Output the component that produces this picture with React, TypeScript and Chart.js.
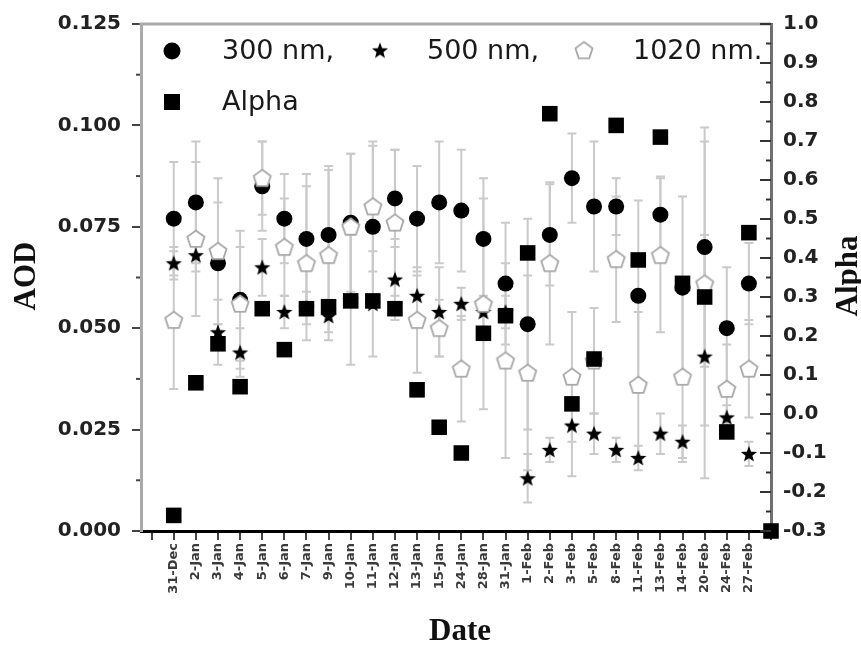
import React, { useEffect, useRef } from 'react';
import { Chart, registerables } from 'chart.js';

Chart.register(...registerables);

// ---------- data ----------
const categories = [
  '31-Dec', '2-Jan', '3-Jan', '4-Jan', '5-Jan', '6-Jan', '7-Jan', '9-Jan', '10-Jan', '11-Jan',
  '12-Jan', '13-Jan', '15-Jan', '24-Jan', '28-Jan', '31-Jan', '1-Feb', '2-Feb', '3-Feb', '5-Feb',
  '8-Feb', '11-Feb', '13-Feb', '14-Feb', '20-Feb', '24-Feb', '27-Feb', '',
];

const aod300 = [0.077, 0.081, 0.066, 0.057, 0.085, 0.077, 0.072, 0.073, 0.076, 0.075, 0.082, 0.077, 0.081, 0.079, 0.072, 0.061, 0.051, 0.073, 0.087, 0.080, 0.080, 0.058, 0.078, 0.060, 0.070, 0.050, 0.061];
const err300 = [0.014, 0.015, 0.015, 0.017, 0.011, 0.011, 0.016, 0.017, 0.017, 0.020, 0.012, 0.013, 0.015, 0.015, 0.015, 0.015, 0.026, 0.0125, 0.011, 0.016, 0.007, 0.0235, 0.0094, 0.0225, 0.0295, 0.015, 0.010];

const aod500 = [0.066, 0.068, 0.049, 0.044, 0.065, 0.054, 0.055, 0.053, 0.057, 0.056, 0.062, 0.058, 0.054, 0.056, 0.054, 0.054, 0.013, 0.020, 0.026, 0.024, 0.020, 0.018, 0.024, 0.022, 0.043, 0.028, 0.019];
const err500 = [0.004, 0.004, 0.008, 0.006, 0.007, 0.004, 0.004, 0.004, 0.016, 0.013, 0.010, 0.005, 0.011, 0.004, 0.004, 0.004, 0.006, 0.003, 0.0125, 0.005, 0.003, 0.003, 0.005, 0.004, 0.030, 0.003, 0.003];

const aod1020 = [0.052, 0.072, 0.069, 0.056, 0.087, 0.070, 0.066, 0.068, 0.075, 0.080, 0.076, 0.052, 0.050, 0.040, 0.056, 0.042, 0.039, 0.066, 0.038, 0.042, 0.067, 0.036, 0.068, 0.038, 0.061, 0.035, 0.040];
const err1020 = [0.017, 0.019, 0.018, 0.014, 0.009, 0.012, 0.019, 0.021, 0.018, 0.016, 0.018, 0.013, 0.007, 0.013, 0.026, 0.024, 0.024, 0.020, 0.016, 0.013, 0.0155, 0.018, 0.019, 0.021, 0.035, 0.011, 0.012];

const alpha = [-0.26, 0.08, 0.18, 0.07, 0.27, 0.165, 0.27, 0.275, 0.29, 0.29, 0.27, 0.062, -0.034, -0.10, 0.207, 0.252, 0.413, 0.77, 0.026, 0.141, 0.74, 0.395, 0.71, 0.335, 0.30, -0.046, 0.465, -0.3];

const aodTicks = [0, 0.025, 0.05, 0.075, 0.1, 0.125];
const alphaRange = [-0.3, 1.0];

const legendLabels = ['300 nm,', '500 nm,', '1020 nm.', 'Alpha'];
const axisTitles = { left: 'AOD', right: 'Alpha', bottom: 'Date' };

// ---------- marker images ----------
function makeStar(): HTMLCanvasElement {
  const c = document.createElement('canvas');
  c.width = 18; c.height = 18;
  const ctx = c.getContext('2d')!;
  const R = 8.5, r = 3.6, cx = 9, cy = 9.6;
  ctx.beginPath();
  for (let i = 0; i < 10; i++) {
    const rad = i % 2 === 0 ? R : r;
    const a = -Math.PI / 2 + (i * Math.PI) / 5;
    const px = cx + rad * Math.cos(a), py = cy + rad * Math.sin(a);
    if (i === 0) ctx.moveTo(px, py); else ctx.lineTo(px, py);
  }
  ctx.closePath();
  ctx.fillStyle = '#000';
  ctx.fill();
  return c;
}

function makePentagon(): HTMLCanvasElement {
  const c = document.createElement('canvas');
  c.width = 22; c.height = 22;
  const ctx = c.getContext('2d')!;
  const R = 9, cx = 11, cy = 11.6;
  ctx.beginPath();
  for (let i = 0; i < 5; i++) {
    const a = -Math.PI / 2 + (i * 2 * Math.PI) / 5;
    const px = cx + R * Math.cos(a), py = cy + R * Math.sin(a);
    if (i === 0) ctx.moveTo(px, py); else ctx.lineTo(px, py);
  }
  ctx.closePath();
  ctx.fillStyle = '#fff';
  ctx.fill();
  ctx.strokeStyle = '#a8a8a8';
  ctx.lineWidth = 1.8;
  ctx.stroke();
  return c;
}

const TICK_FONT = { family: 'DejaVu Sans', size: 20, weight: 'bold' as const };

export default function App() {
  const ref = useRef<HTMLCanvasElement | null>(null);

  useEffect(() => {
    if (!ref.current) return;
    const star = makeStar();
    const pent = makePentagon();

    const pts = (arr: number[]) => arr.map((v, i) => ({ x: i, y: v }));

    const errorBars = {
      id: 'errorBars',
      beforeDatasetsDraw(chart: any) {
        const { ctx, chartArea } = chart;
        const xs = chart.scales.x, ys = chart.scales.y;
        const sets = [
          [aod300, err300],
          [aod500, err500],
          [aod1020, err1020],
        ];
        ctx.save();
        ctx.beginPath();
        ctx.rect(chartArea.left, chartArea.top, chartArea.right - chartArea.left, chartArea.bottom - chartArea.top);
        ctx.clip();
        ctx.strokeStyle = '#cacaca';
        ctx.lineWidth = 2;
        sets.forEach(([vals, errs]) => {
          vals.forEach((v, i) => {
            const e = errs[i];
            const px = xs.getPixelForValue(i);
            const y1 = ys.getPixelForValue(v + e);
            const y2 = ys.getPixelForValue(v - e);
            ctx.beginPath();
            ctx.moveTo(px, y1); ctx.lineTo(px, y2);
            ctx.moveTo(px - 4.5, y1); ctx.lineTo(px + 4.5, y1);
            ctx.moveTo(px - 4.5, y2); ctx.lineTo(px + 4.5, y2);
            ctx.stroke();
          });
        });
        ctx.restore();
      },
    };

    const decor = {
      id: 'decor',
      afterDraw(chart: any) {
        const { ctx, chartArea } = chart;
        const ys = chart.scales.y, y1s = chart.scales.y1;
        ctx.save();
        // top frame
        ctx.strokeStyle = '#aaaaaa';
        ctx.lineWidth = 3;
        ctx.beginPath();
        ctx.moveTo(chartArea.left - 1.5, chartArea.top);
        ctx.lineTo(chartArea.right, chartArea.top);
        ctx.stroke();
        // left minor ticks
        ctx.strokeStyle = '#444';
        ctx.lineWidth = 2;
        for (let k = 0; k < aodTicks.length - 1; k++) {
          const m = (aodTicks[k] + aodTicks[k + 1]) / 2;
          const py = ys.getPixelForValue(m);
          ctx.beginPath();
          ctx.moveTo(chartArea.left - 5, py); ctx.lineTo(chartArea.left - 1, py);
          ctx.stroke();
        }
        // right inward ticks
        ctx.strokeStyle = '#333';
        for (let k = 0; k <= 26; k++) {
          const v = alphaRange[0] + k * 0.05;
          const py = y1s.getPixelForValue(v);
          const len = k % 2 === 0 ? 11 : 5;
          ctx.beginPath();
          ctx.moveTo(chartArea.right - len, py); ctx.lineTo(chartArea.right, py);
          ctx.stroke();
        }
        // axis titles
        ctx.fillStyle = '#111';
        ctx.font = 'bold 31px "Liberation Serif"';
        ctx.textAlign = 'center';
        ctx.textBaseline = 'middle';
        ctx.fillText(axisTitles.bottom, 460, 632);
        ctx.save();
        ctx.translate(27, 276);
        ctx.rotate(-Math.PI / 2);
        ctx.fillText(axisTitles.left, 0, 0);
        ctx.restore();
        ctx.save();
        ctx.translate(849, 276);
        ctx.rotate(-Math.PI / 2);
        ctx.fillText(axisTitles.right, 0, 0);
        ctx.restore();

        // legend
        const L = chartArea.left;
        const T = chartArea.top;
        const row1 = T + 27, row2 = T + 78;
        ctx.fillStyle = '#000';
        ctx.beginPath();
        ctx.arc(L + 31, row1, 8.5, 0, Math.PI * 2);
        ctx.fill();
        ctx.drawImage(star, L + 239 - 9, row1 - 9.6);
        ctx.drawImage(pent, L + 443 - 11, row1 - 11.6);
        ctx.fillRect(L + 31 - 8, row2 - 8, 16, 16);
        ctx.font = '27px "DejaVu Sans"';
        ctx.fillStyle = '#1a1a1a';
        ctx.textAlign = 'left';
        ctx.fillText(legendLabels[0], L + 81, row1 + 1);
        ctx.fillText(legendLabels[1], L + 286, row1 + 1);
        ctx.fillText(legendLabels[2], L + 492, row1 + 1);
        ctx.fillText(legendLabels[3], L + 81, row2 + 1);
        ctx.restore();
      },
    };

    const chart = new Chart(ref.current, {
      type: 'scatter',
      data: {
        datasets: [
          {
            label: legendLabels[3],
            data: pts(alpha),
            yAxisID: 'y1',
            pointStyle: 'rect',
            pointRadius: 11,
            pointHoverRadius: 11,
            backgroundColor: '#000',
            borderColor: '#000',
            borderWidth: 0,
            clip: false as any,
            order: 0,
          },
          {
            label: legendLabels[2],
            data: pts(aod1020),
            yAxisID: 'y',
            pointStyle: pent as any,
            pointRadius: 9,
            order: 1,
          },
          {
            label: legendLabels[1],
            data: pts(aod500),
            yAxisID: 'y',
            pointStyle: star as any,
            pointRadius: 8,
            order: 2,
          },
          {
            label: legendLabels[0],
            data: pts(aod300),
            yAxisID: 'y',
            pointStyle: 'circle',
            pointRadius: 8,
            pointHoverRadius: 8,
            backgroundColor: '#000',
            borderColor: '#000',
            borderWidth: 0,
            order: 3,
          },
        ],
      },
      options: {
        responsive: false,
        animation: false,
        events: [],
        layout: { padding: { top: 22, left: 0, right: 0, bottom: 0 } },
        plugins: { legend: { display: false }, tooltip: { enabled: false }, title: { display: false } },
        scales: {
          x: {
            type: 'linear',
            position: 'bottom',
            min: -1.48,
            max: 27,
            afterBuildTicks: (s: any) => {
              const t = [];
              for (let v = -1; v <= 27; v++) t.push({ value: v });
              s.ticks = t;
            },
            afterFit: (s: any) => { s.height = 115; },
            grid: { display: true, drawOnChartArea: false, drawTicks: true, tickLength: 9, color: '#444', lineWidth: 2 },
            border: { display: true, color: '#000', width: 3 },
            ticks: {
              autoSkip: false,
              maxRotation: 90,
              minRotation: 90,
              padding: 3,
              color: '#3a3a3a',
              font: { family: 'DejaVu Sans', size: 13, weight: 'bold' },
              callback: (v: any) => (v >= 0 && Number.isInteger(v) ? categories[v] || '' : ''),
            },
          },
          y: {
            type: 'linear',
            position: 'left',
            min: aodTicks[0],
            max: aodTicks[aodTicks.length - 1],
            afterFit: (s: any) => { s.width = 141; },
            afterBuildTicks: (s: any) => { s.ticks = aodTicks.map((v) => ({ value: v })); },
            grid: { display: true, drawOnChartArea: false, drawTicks: true, tickLength: 9, color: '#444', lineWidth: 2 },
            border: { display: true, color: '#aaaaaa', width: 3 },
            ticks: {
              padding: 11,
              color: '#222',
              font: TICK_FONT,
              callback: (v: any) => Number(v).toFixed(3),
            },
          },
          y1: {
            type: 'linear',
            position: 'right',
            min: alphaRange[0],
            max: alphaRange[1],
            afterFit: (s: any) => { s.width = 90; },
            afterBuildTicks: (s: any) => {
              const t = [];
              for (let k = 0; k <= 13; k++) t.push({ value: Math.round((alphaRange[0] + k * 0.1) * 10) / 10 });
              s.ticks = t;
            },
            grid: { display: true, drawOnChartArea: false, drawTicks: false },
            border: { display: true, color: '#707070', width: 3 },
            ticks: {
              padding: 12,
              color: '#222',
              font: TICK_FONT,
              callback: (v: any) => (Math.abs(v) < 1e-9 ? '0.0' : Number(v).toFixed(1)),
            },
          },
        },
      } as any,
      plugins: [errorBars, decor],
    });

    return () => chart.destroy();
  }, []);

  return (
    <div style={{ position: 'fixed', left: 0, top: 0, width: 861, height: 646, background: '#fff' }}>
      <canvas ref={ref} width={861} height={646} style={{ display: 'block', width: 861, height: 646 }} />
    </div>
  );
}
